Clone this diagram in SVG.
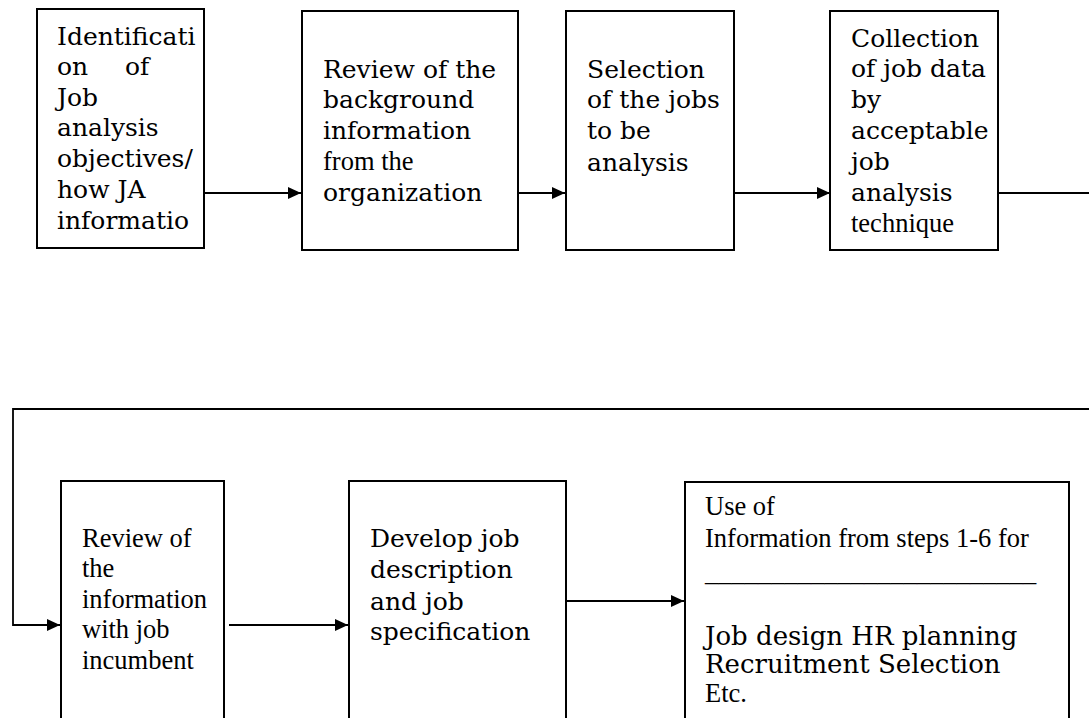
<svg xmlns="http://www.w3.org/2000/svg" width="1089" height="718" viewBox="0 0 1089 718">
<style>
.box{fill:#fff;stroke:#000;stroke-width:2}
.bk{font-family:"DejaVu Serif","Liberation Serif",serif;font-size:25px;fill:#000}
.bk2{font-size:26px}
.tm{font-family:"Liberation Serif",serif;font-size:26.5px;fill:#000}
.ln{fill:none;stroke:#000;stroke-width:1.8}
</style>
<defs>
<marker id="ah" markerWidth="13" markerHeight="12" refX="13" refY="6" orient="auto" markerUnits="userSpaceOnUse">
<path d="M0,0 L13,6 L0,12 Z" fill="#000"/>
</marker>
</defs>
<rect width="1089" height="718" fill="#fff"/>
<g id="connectors">
<line class="ln" x1="204" y1="193" x2="301" y2="193" marker-end="url(#ah)"/>
<line class="ln" x1="518" y1="193" x2="565" y2="193" marker-end="url(#ah)"/>
<line class="ln" x1="734" y1="193" x2="830" y2="193" marker-end="url(#ah)"/>
<line class="ln" x1="998" y1="193" x2="1089" y2="193"/>
<polyline class="ln" points="1089,409 13,409 13,625 60,625" marker-end="url(#ah)"/>
<line class="ln" x1="229" y1="625" x2="348" y2="625" marker-end="url(#ah)"/>
<line class="ln" x1="566" y1="601" x2="684" y2="601" marker-end="url(#ah)"/>
</g>
<g id="node1">
<rect class="box" x="37" y="9" width="167" height="239"/>
<text class="bk" x="57" y="45">Identificati</text>
<text class="bk" x="57" y="75">on</text><text class="bk" x="125" y="75">of</text>
<text class="bk" x="57" y="106">Job</text>
<text class="bk" x="57" y="136">analysis</text>
<text class="bk" x="57" y="167">objectives/</text>
<text class="bk" x="57" y="198">how JA</text>
<text class="bk" x="57" y="229">informatio</text>
</g>
<g id="node2">
<rect class="box" x="302" y="11" width="216" height="239"/>
<text class="bk" x="323" y="78">Review of the</text>
<text class="bk" x="323" y="108">background</text>
<text class="bk" x="323" y="139">information</text>
<text class="tm" x="323" y="170">from the</text>
<text class="bk" x="323" y="201">organization</text>
</g>
<g id="node3">
<rect class="box" x="566" y="11" width="168" height="239"/>
<text class="bk" x="587" y="78">Selection</text>
<text class="bk" x="587" y="108">of the jobs</text>
<text class="bk" x="587" y="139">to be</text>
<text class="bk" x="587" y="171">analysis</text>
</g>
<g id="node4">
<rect class="box" x="830" y="11" width="168" height="239"/>
<text class="bk" x="851" y="47">Collection</text>
<text class="bk" x="851" y="77">of job data</text>
<text class="bk" x="851" y="108">by</text>
<text class="bk" x="851" y="139">acceptable</text>
<text class="bk" x="851" y="170">job</text>
<text class="bk" x="851" y="201">analysis</text>
<text class="tm" x="851" y="232">technique</text>
</g>
<g id="node5">
<rect class="box" x="61" y="481" width="163" height="250"/>
<text class="tm" x="82" y="547">Review of</text>
<text class="tm" x="82" y="577">the</text>
<text class="tm" x="82" y="608">information</text>
<text class="tm" x="82" y="638">with job</text>
<text class="tm" x="82" y="669">incumbent</text>
</g>
<g id="node6">
<rect class="box" x="349" y="481" width="217" height="250"/>
<text class="bk" x="370" y="547">Develop job</text>
<text class="bk" x="370" y="578">description</text>
<text class="bk" x="370" y="610">and job</text>
<text class="bk" x="370" y="640">specification</text>
</g>
<g id="node7">
<rect class="box" x="685" y="482" width="384" height="250"/>
<text class="tm" x="705" y="515">Use of</text>
<text class="tm" x="705" y="547">Information from steps 1-6 for</text>
<text class="tm" x="705" y="581">_________________________</text>
<text class="bk bk2" x="705" y="645">Job design HR planning</text>
<text class="bk bk2" x="705" y="673">Recruitment Selection</text>
<text class="tm" x="705" y="702">Etc.</text>
</g>
</svg>
